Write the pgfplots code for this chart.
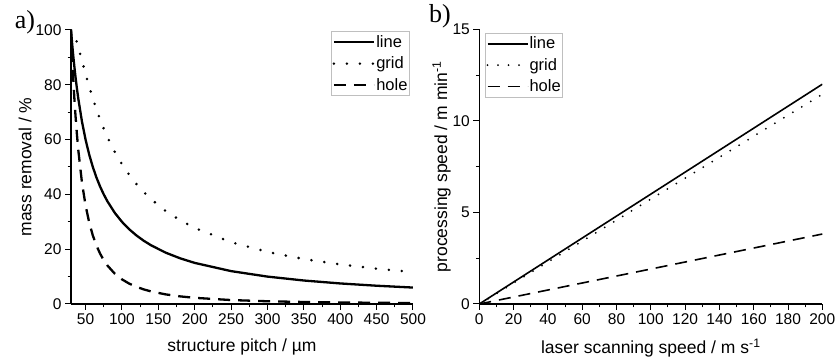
\documentclass[border=0pt]{standalone}
\usepackage{pgfplots}
\pgfplotsset{compat=1.18}
\usepackage{fontspec}
\setmainfont{Liberation Sans}
\newfontfamily\tnr{Liberation Serif}
\begin{document}
\begin{tikzpicture}[x=1pt,y=1pt]
\useasboundingbox (0,0) rectangle (837,363);
\pgfplotsset{
  myax/.style={
    scale only axis,
    anchor=south west,
    axis x line*=bottom,
    axis y line*=left,
    tick align=outside,
    major tick length=6pt,
    minor tick length=3.5pt,
    minor tick num=1,
    every tick/.style={black, line width=1pt},
    axis line style={line width=1.3pt},
    tick label style={font=\fontsize{15.5}{17}\selectfont},
    label style={font=\fontsize{17.5}{20}\selectfont},
    /pgf/number format/assume math mode=true,
    legend cell align=left,
    legend style={draw=gray!50, line width=0.8pt, font=\fontsize{16.5}{19}\selectfont, inner xsep=1pt, inner ysep=3pt, row sep=6pt,
      nodes={inner xsep=1pt, inner ysep=1pt}},
    legend image code/.code={\draw[##1] (0pt,0pt) -- (40pt,0pt);},
  }
}
\begin{axis}[myax, at={(71pt,59pt)}, width=342pt, height=274pt,
  xmin=30, xmax=500, ymin=0, ymax=100,
  xtick={50,100,...,500}, ytick={0,20,...,100},
  xlabel={structure pitch / µm}, ylabel={mass removal / \%},
  xlabel style={at={(axis description cs:0.5,-0.157)}, anchor=center},
  ylabel style={at={(axis description cs:-0.1345,0.5)}, anchor=center},
  legend style={at={(0.991,0.996)}, anchor=north east},
]
\addplot[black, line width=2.3pt] coordinates {
(30,100) (31,96.77) (32,93.75) (33,90.91) (34,88.24) (35,85.71) (36,83.33) (38,78.95) (40,75) (45,66.67) (50,60) (55,54.55) (60,50) (65,46.15) (70,42.86) (75,40) (80,37.5) (90,33.33) (100,30) (110,27.27) (120,25) (130,23.08) (140,21.43) (160,18.75) (180,16.67) (200,15) (250,12) (300,10) (350,8.571) (400,7.5) (450,6.667) (500,6)};
\addlegendentry{line}
\addplot[black, line width=2.8pt, line cap=round, dash pattern=on 0pt off 13pt] coordinates {
(30,100) (31,99.90) (32,99.61) (33,99.17) (34,98.62) (35,97.96) (36,97.22) (38,95.57) (40,93.75) (45,88.89) (50,84) (55,79.34) (60,75) (65,71.01) (70,67.35) (75,64) (80,60.94) (90,55.56) (100,51) (110,47.11) (120,43.75) (130,40.83) (140,38.27) (160,33.98) (180,30.56) (200,27.75) (250,22.56) (300,19) (350,16.41) (400,14.44) (450,12.89) (500,11.64)};
\addlegendentry{grid}
\addplot[black, line width=2.3pt, dash pattern=on 12pt off 8pt] coordinates {
(30,100) (31,93.65) (32,87.89) (33,82.64) (34,77.85) (35,73.47) (36,69.44) (38,62.33) (40,56.25) (45,44.44) (50,36) (55,29.75) (60,25) (65,21.30) (70,18.37) (75,16) (80,14.06) (90,11.11) (100,9) (110,7.438) (120,6.25) (130,5.325) (140,4.592) (160,3.516) (180,2.778) (200,2.25) (250,1.44) (300,1) (350,0.7347) (400,0.5625) (450,0.4444) (500,0.36)};
\addlegendentry{hole}
\end{axis}
\begin{axis}[myax, at={(479.3pt,59pt)}, width=343pt, height=274.7pt,
  xmin=0, xmax=200, ymin=0, ymax=15,
  xtick={0,20,...,200}, ytick={0,5,10,15},
  xlabel={laser scanning speed / m s\textsuperscript{-1}}, ylabel={processing speed / m min\textsuperscript{-1}},
  xlabel style={at={(axis description cs:0.5,-0.160)}, anchor=center},
  ylabel style={at={(axis description cs:-0.1096,0.5)}, anchor=center},
  legend style={at={(0.017,0.988)}, anchor=north west},
]
\addplot[black, line width=1.6pt] coordinates {(0,0) (200,12)};
\addlegendentry{line}
\addplot[black, line width=2pt, line cap=round, dash pattern=on 0pt off 10.5pt] coordinates {(0,0) (200,11.45)};
\addlegendentry{grid}
\addplot[black, line width=1.6pt, dash pattern=on 12pt off 8pt] coordinates {(0,0) (200,3.82)};
\addlegendentry{hole}
\end{axis}
\node[font=\tnr\fontsize{26}{28}\selectfont] at (25,341) {a)};
\node[font=\tnr\fontsize{26}{28}\selectfont] at (440,347) {b)};
\end{tikzpicture}
\end{document}
